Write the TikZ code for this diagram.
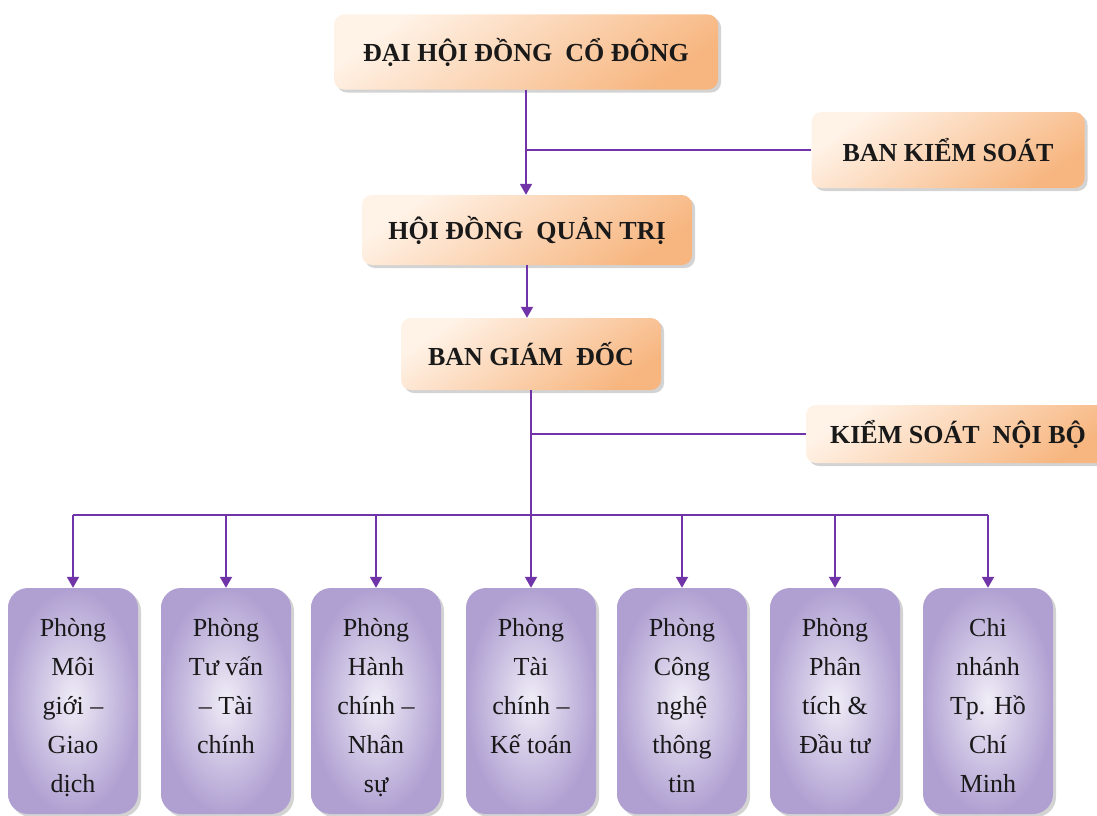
\documentclass[tikz,border=0pt]{standalone}
\usepackage{fontspec}
\setmainfont{Liberation Serif}
\definecolor{linepurple}{RGB}{112,52,168}
\definecolor{peachlight}{RGB}{255,243,232}
\definecolor{peachdark}{RGB}{247,182,128}
\definecolor{lavlight}{RGB}{240,237,247}
\definecolor{lavdark}{RGB}{176,160,210}
\usepackage{tikz}
\usetikzlibrary{calc, arrows.meta, shadows}

\begin{document}
\begin{tikzpicture}[x=1pt, y=-1pt,
  topbox/.style={draw=none, rounded corners=10pt, top color=peachlight,
    bottom color=peachdark, shading angle=35, inner sep=0pt,
    drop shadow={opacity=0.35, shadow xshift=3pt, shadow yshift=-3pt},
    font=\fontsize{26}{30}\selectfont\bfseries, text=black!90},
  dept/.style={draw=none, rounded corners=20pt, minimum width=130pt,
    minimum height=226pt, inner color=lavlight, outer color=lavdark,
    drop shadow={opacity=0.35, shadow xshift=3pt, shadow yshift=-3pt}},
  dtext/.style={font=\fontsize{26}{39}\selectfont, align=center,
    inner sep=0pt, text=black!90},
  link/.style={draw=linepurple, line width=2pt},
  tip/.style={-{Triangle[width=12pt, length=11pt]}},
]
\useasboundingbox (0,0) rectangle (1097,816);

% Upper levels
\node[topbox, minimum width=384pt, minimum height=75pt] (dhdcd) at (526,52)
  {ĐẠI HỘI ĐỒNG\ \ CỔ ĐÔNG};
\node[topbox, minimum width=273pt, minimum height=76pt] (bks) at (948,150)
  {BAN KIỂM SOÁT};
\node[topbox, minimum width=330pt, minimum height=70pt] (hdqt) at (527,230)
  {HỘI ĐỒNG\ \ QUẢN TRỊ};
\node[topbox, minimum width=260pt, minimum height=72pt] (bgd) at (531,354)
  {BAN GIÁM\ \ ĐỐC};
\node[topbox, minimum width=304pt, minimum height=58pt] (ksnb) at (958,434)
  {KIỂM SOÁT\ \ NỘI BỘ};

% Departments
\node[dept] (moigioi) at (73,701) {};
\node[dtext, anchor=north] at ([yshift=-30pt]moigioi.north)
  {Phòng\\Môi\\giới –\\Giao\\dịch};
\node[dept] (tuvan) at (226,701) {};
\node[dtext, anchor=north] at ([yshift=-30pt]tuvan.north)
  {Phòng\\Tư vấn\\– Tài\\chính};
\node[dept] (hanhchinh) at (376,701) {};
\node[dtext, anchor=north] at ([yshift=-30pt]hanhchinh.north)
  {Phòng\\Hành\\chính –\\Nhân\\sự};
\node[dept] (taichinh) at (531,701) {};
\node[dtext, anchor=north] at ([yshift=-30pt]taichinh.north)
  {Phòng\\Tài\\chính –\\Kế toán};
\node[dept] (congnghe) at (682,701) {};
\node[dtext, anchor=north] at ([yshift=-30pt]congnghe.north)
  {Phòng\\Công\\nghệ\\thông\\tin};
\node[dept] (phantich) at (835,701) {};
\node[dtext, anchor=north] at ([yshift=-30pt]phantich.north)
  {Phòng\\Phân\\tích \&\\Đầu tư};
\node[dept] (chinhanh) at (988,701) {};
\node[dtext, anchor=north] at ([yshift=-30pt]chinhanh.north)
  {Chi\\nhánh\\Tp. Hồ\\Chí\\Minh};

% Connectors
\coordinate (bus) at (531,515);
\draw[link, tip] (dhdcd.south) -- (dhdcd.south |- hdqt.north);
\draw[link] (bks.west) -- (bks.west -| dhdcd.south);
\draw[link, tip] (hdqt.south) -- (hdqt.south |- bgd.north);
\draw[link, tip] (bgd.south) -- (taichinh.north);
\draw[link] (ksnb.west) -- (ksnb.west -| bgd.south);
\draw[link] (moigioi.north |- bus) -- (chinhanh.north |- bus);
\draw[link, tip] (moigioi.north |- bus) -- (moigioi.north);
\draw[link, tip] (tuvan.north |- bus) -- (tuvan.north);
\draw[link, tip] (hanhchinh.north |- bus) -- (hanhchinh.north);
\draw[link, tip] (congnghe.north |- bus) -- (congnghe.north);
\draw[link, tip] (phantich.north |- bus) -- (phantich.north);
\draw[link, tip] (chinhanh.north |- bus) -- (chinhanh.north);
\end{tikzpicture}
\end{document}
